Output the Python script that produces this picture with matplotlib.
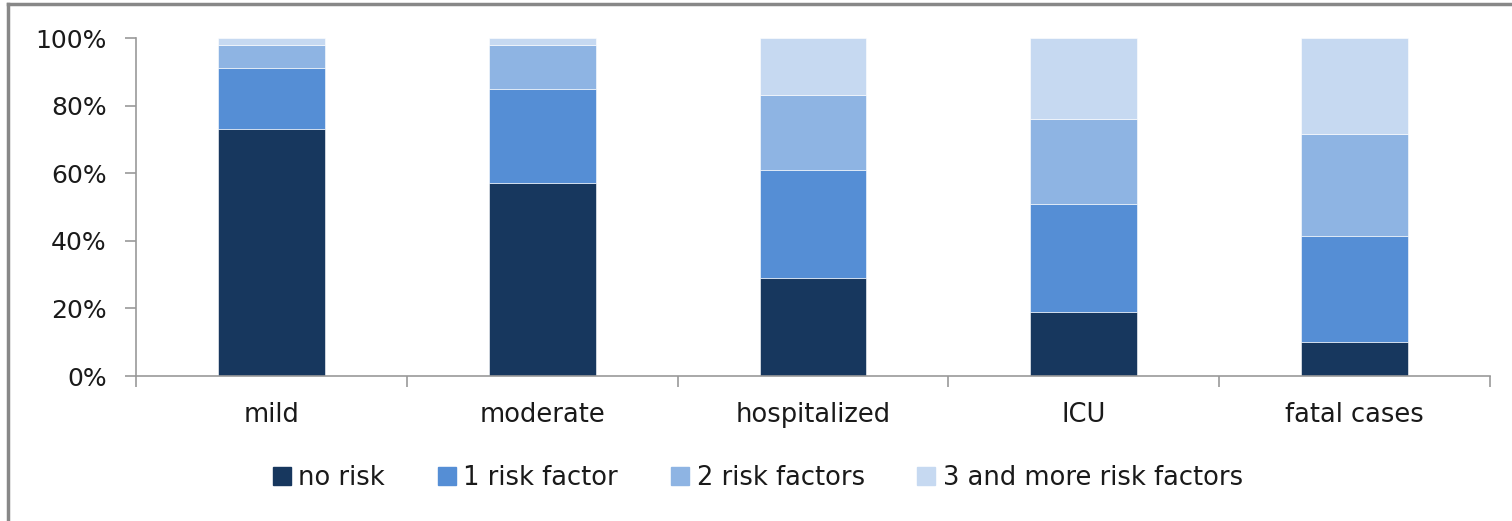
import numpy as np
import matplotlib
matplotlib.use('Agg')
import matplotlib.pyplot as plt
from matplotlib.lines import Line2D
from matplotlib.ticker import PercentFormatter

categories = ['mild', 'moderate', 'hospitalized', 'ICU', 'fatal cases']
series = ['no risk', '1 risk factor', '2 risk factors', '3 and more risk factors']
no_risk = [73, 57, 29, 19, 10]
one_risk = [18, 28, 32, 32, 31.5]
two_risk = [7, 13, 22, 25, 30]
three_plus = [2, 2, 17, 24, 28.5]
colors = ['#17375E', '#558ED5', '#8EB4E3', '#C6D9F1']

plt.rcParams['font.family'] = ['DejaVu Sans']
fig = plt.figure(figsize=(15.12, 5.21), dpi=100)
ax = fig.add_axes([136 / 1512, 1 - 376 / 521, (1490 - 136) / 1512, (376 - 38) / 521])

x = np.arange(len(categories))
bottom = np.zeros(len(categories))
for vals, name, c in zip([no_risk, one_risk, two_risk, three_plus], series, colors):
    ax.bar(x, vals, width=0.395, bottom=bottom, color=c, label=name,
           edgecolor='white', linewidth=0.4)
    bottom += np.array(vals)

ax.set_xlim(-0.5, len(categories) - 0.5)
ax.set_ylim(0, 100)
ax.set_yticks(range(0, 101, 20))
ax.yaxis.set_major_formatter(PercentFormatter(decimals=0))
ax.set_xticks(x)
ax.set_xticklabels(categories)
ax.set_xticks(np.arange(-0.5, len(categories)), minor=True)
ax.tick_params(axis='x', which='major', length=0, pad=19, labelsize=18.5, colors='#1a1a1a')
ax.tick_params(axis='x', which='minor', length=8, width=1.2, color='#999999')
ax.tick_params(axis='y', length=8, width=1.2, color='#999999', labelsize=18, pad=13,
               labelcolor='#1a1a1a')
for s in ['top', 'right']:
    ax.spines[s].set_visible(False)
for s in ['left', 'bottom']:
    ax.spines[s].set_color('#999999')
    ax.spines[s].set_linewidth(1.2)

handles = [Line2D([0], [0], marker='s', linestyle='none', markersize=13,
                  markerfacecolor=c, markeredgecolor=c) for c in colors]
fig.legend(handles, series, loc='center', bbox_to_anchor=(0.5, 1 - 478 / 521),
           ncol=4, frameon=False, fontsize=18.5, handletextpad=0.15, columnspacing=1.9,
           handlelength=1.0, labelcolor='#1a1a1a')

# grey frame around the chart area
fig.add_artist(Line2D([8 / 1512, 8 / 1512], [0, 1 - 4 / 521], transform=fig.transFigure,
                      color='#888888', linewidth=2.5))
fig.add_artist(Line2D([8 / 1512, 1], [1 - 4 / 521, 1 - 4 / 521], transform=fig.transFigure,
                      color='#888888', linewidth=2.5))

fig.savefig('out.png', dpi=100)
